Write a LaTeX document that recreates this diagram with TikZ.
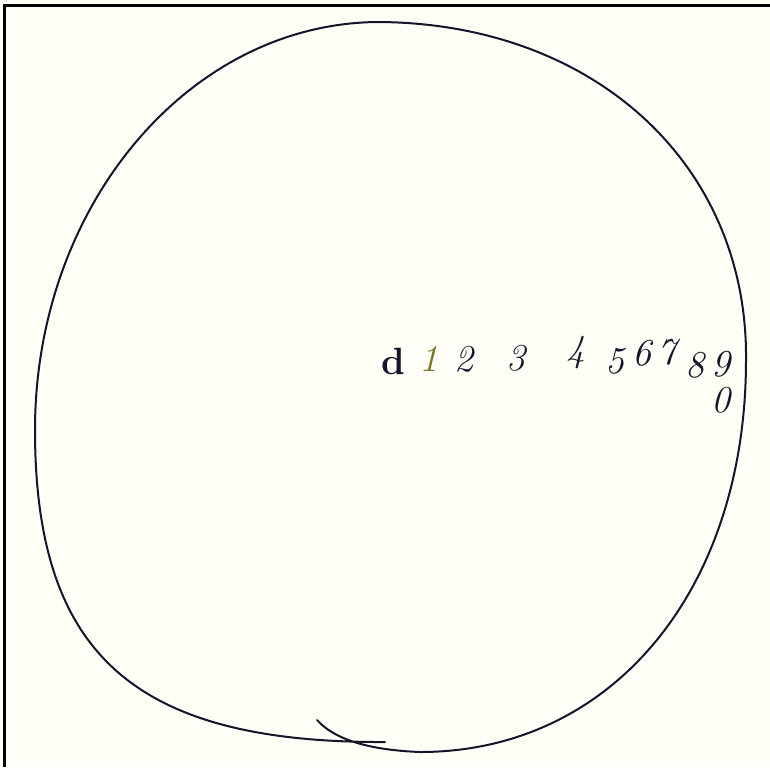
\documentclass[tikz,border=0pt]{standalone}
\usepackage{tikz}
\usepackage{xcolor}
\definecolor{paper}{HTML}{FFFEF7}
\definecolor{inkblue}{HTML}{14142A}
\definecolor{inkolive}{HTML}{7A7420}

\begin{document}
\begin{tikzpicture}[x=0.5pt,y=-0.5pt,
  digit/.style={font=\fontsize{19}{21}\selectfont\itshape,inner sep=0pt,text=inkblue}]
\fill[paper] (0,0) rectangle (770,767);
\useasboundingbox (0,0) rectangle (770,767);
\draw[line width=1.5pt,black] (4,767)--(4,5)--(770,5);
% the hand drawn loop
\draw[inkblue,line width=1pt,line cap=round]
  (317,720) .. controls (335,740) and (370,750) .. (420,752)
  .. controls (612,752) and (746,590) .. (746,360)
  .. controls (748,165) and (595,24) .. (380,22)
  .. controls (190,22) and (35,205) .. (35,430)
  .. controls (35,655) and (135,743) .. (385,742);
% digits along the radius
\node[digit,font=\fontsize{19}{21}\selectfont\bfseries] (d) at (393,361) {d};
\node[digit,text=inkolive] (n1) at (429,359) {1};
\node[digit] (n2) at (464,359) {2};
\node[digit] (n3) at (516,358) {3};
\node[digit] (n4) at (576,353) {4};
\node[digit] (n5) at (615,361) {5};
\node[digit] (n6) at (642,353) {6};
\node[digit] (n7) at (667,352) {7};
\node[digit] (n8) at (695,365) {8};
\node[digit] (n9) at (721,364) {9};
\node[digit] (n0) at (721,400) {0};
\end{tikzpicture}
\end{document}
